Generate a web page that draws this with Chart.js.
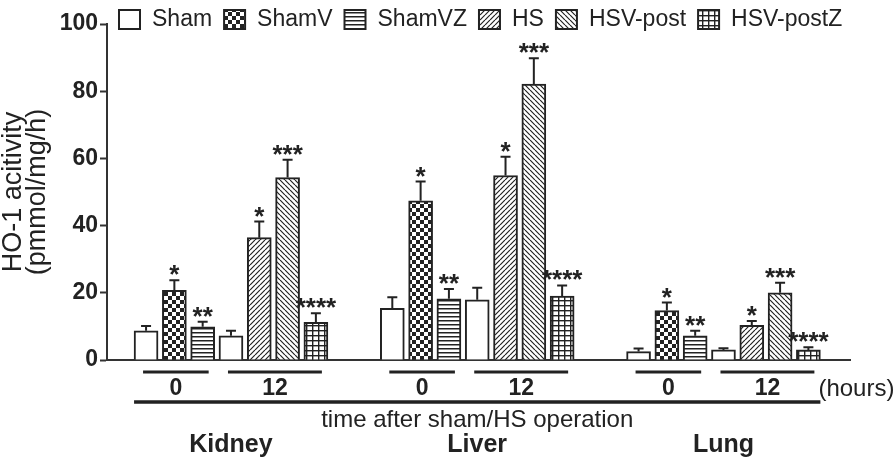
<!DOCTYPE html>
<html>
<head>
<meta charset="utf-8">
<script src="https://cdn.jsdelivr.net/npm/chart.js@4.4.1/dist/chart.umd.min.js"></script>
<style>
  html, body { margin: 0; padding: 0; background: #fff; }
  canvas { display: block; }
</style>
</head>
<body>
<canvas id="chart" width="895" height="463"></canvas>
<script>
// organs and time points
const organs = ['Kidney', 'Liver', 'Lung'];
const hourLabels = ['0', '12'];
const seriesNames = ['Sham', 'ShamV', 'ShamVZ', 'HS', 'HSV-post', 'HSV-postZ'];

// means and SEM per organ (Kidney, Liver, Lung)
const sham0 = [8.7, 15.4, 2.5];
const sham0Err = [1.4, 3.3, 0.9];
const sham12 = [7.2, 17.9, 3.0];
const sham12Err = [1.5, 3.6, 0.5];
const shamV = [20.7, 47.4, 14.7];
const shamVErr = [3.0, 5.7, 2.4];
const shamVZ = [9.9, 18.2, 7.2];
const shamVZErr = [1.5, 2.9, 1.5];
const hs = [36.4, 54.9, 10.3];
const hsErr = [4.8, 5.6, 1.3];
const hsvPost = [54.3, 82.1, 20.0];
const hsvPostErr = [5.3, 7.7, 3.0];
const hsvPostZ = [11.2, 19.0, 3.0];
const hsvPostZErr = [2.7, 3.2, 0.8];
const starMarks = ['', '*', '**', '*', '***', '****'];

const FONT = "'Liberation Sans', Arial, Helvetica, sans-serif";
const INK = '#222';
const organStride = 8.7; // slots between first bars of two organs

function makePattern(kind) {
  const c = document.createElement('canvas');
  const sizes = { white: [4, 4], check: [8, 8], hlines: [4, 4], up: [5, 5], down: [5, 5], grid: [6, 5] };
  const [w, h] = sizes[kind];
  c.width = w; c.height = h;
  const g = c.getContext('2d');
  g.fillStyle = '#fff';
  g.fillRect(0, 0, w, h);
  g.fillStyle = INK;
  g.strokeStyle = INK;
  if (kind === 'check') {
    g.fillRect(0, 0, 4, 4);
    g.fillRect(4, 4, 4, 4);
  } else if (kind === 'hlines') {
    g.fillRect(0, 0, w, 1.5);
  } else if (kind === 'up' || kind === 'down') {
    g.lineWidth = 1.2;
    g.beginPath();
    for (let k = -1; k <= 1; k++) {
      if (kind === 'up') { g.moveTo(k * w, h); g.lineTo(k * w + w, 0); }
      else { g.moveTo(k * w, 0); g.lineTo(k * w + w, h); }
    }
    g.stroke();
  } else if (kind === 'grid') {
    g.fillRect(0, 0, 1.4, h);
    g.fillRect(0, 0, w, 1.4);
  }
  if (kind === 'white') return '#fff';
  return g.createPattern(c, 'repeat');
}

const fills = ['white', 'check', 'hlines', 'up', 'down', 'grid'].map(makePattern);

function pos(o, slot) { return o * organStride + slot; }

function pts(slot, means, errs) {
  return organs.map((_, o) => ({ x: pos(o, slot), y: means[o], err: errs[o] }));
}

const seriesPoints = [
  pts(0, sham0, sham0Err).concat(pts(3, sham12, sham12Err)),
  pts(1, shamV, shamVErr),
  pts(2, shamVZ, shamVZErr),
  pts(4, hs, hsErr),
  pts(5, hsvPost, hsvPostErr),
  pts(6, hsvPostZ, hsvPostZErr),
];

const datasets = seriesNames.map((name, i) => ({
  label: name,
  data: seriesPoints[i],
  backgroundColor: fills[i],
  borderColor: INK,
  borderWidth: 2,
  barThickness: 24,
  grouped: false,
  stars: starMarks[i],
}));

// error bars, stars, legend and the bracket labels under the axis
const decorations = {
  id: 'decorations',
  afterDatasetsDraw(chart) {
    const { ctx, scales: { x, y } } = chart;
    ctx.save();
    ctx.strokeStyle = INK;
    ctx.fillStyle = INK;

    // error bars + stars
    chart.data.datasets.forEach(ds => {
      ds.data.forEach(p => {
        const px = x.getPixelForValue(p.x);
        const top = y.getPixelForValue(p.y);
        const et = y.getPixelForValue(p.y + p.err);
        ctx.lineWidth = 2;
        ctx.beginPath();
        ctx.moveTo(px, top);
        ctx.lineTo(px, et);
        ctx.moveTo(px - 5, et);
        ctx.lineTo(px + 5, et);
        ctx.stroke();
        if (ds.stars) {
          ctx.font = 'bold 26px ' + FONT;
          ctx.textAlign = 'center';
          ctx.textBaseline = 'alphabetic';
          ctx.fillText(ds.stars, px, et + 3);
        }
      });
    });

    // time brackets
    ctx.textAlign = 'center';
    ctx.textBaseline = 'middle';
    let lastEnd = 0;
    organs.forEach((org, o) => {
      hourLabels.forEach((h, t) => {
        const x0 = x.getPixelForValue(pos(o, t === 0 ? 0 : 3)) - 3;
        const x1 = x.getPixelForValue(pos(o, t === 0 ? 2 : 6)) + 6;
        ctx.lineWidth = 3;
        ctx.beginPath();
        ctx.moveTo(x0, 372);
        ctx.lineTo(x1, 372);
        ctx.stroke();
        ctx.font = 'bold 23px ' + FONT;
        ctx.fillText(h, (x0 + x1) / 2, 389);
        lastEnd = x1;
      });
      ctx.font = 'bold 25px ' + FONT;
      const gc = (x.getPixelForValue(pos(o, 0)) + x.getPixelForValue(pos(o, 6))) / 2;
      ctx.fillText(org, gc, 445);
    });
    ctx.textAlign = 'left';
    ctx.font = '24px ' + FONT;
    ctx.fillText('(hours)', lastEnd + 4, 389);

    const l0 = x.getPixelForValue(pos(0, 0)) - 12;
    const l1 = x.getPixelForValue(pos(2, 6)) + 12;
    ctx.lineWidth = 3.5;
    ctx.beginPath();
    ctx.moveTo(l0, 402);
    ctx.lineTo(l1, 402);
    ctx.stroke();
    ctx.textAlign = 'center';
    ctx.font = '24px ' + FONT;
    ctx.fillText('time after sham/HS operation', (l0 + l1) / 2, 420);

    // legend
    let lx = 119;
    ctx.font = '23px ' + FONT;
    ctx.textAlign = 'left';
    chart.data.datasets.forEach(ds => {
      ctx.fillStyle = ds.backgroundColor;
      ctx.fillRect(lx, 10, 21, 19);
      ctx.lineWidth = 2;
      ctx.strokeRect(lx, 10, 21, 19);
      ctx.fillStyle = INK;
      ctx.fillText(ds.label, lx + 33, 20);
      lx += 33 + ctx.measureText(ds.label).width + 12;
    });
    ctx.restore();
  }
};

new Chart(document.getElementById('chart'), {
  type: 'bar',
  data: { datasets },
  options: {
    responsive: false,
    animation: false,
    devicePixelRatio: 1,
    layout: { padding: { left: 0, right: 45, top: 24, bottom: 103 } },
    plugins: { legend: { display: false }, tooltip: { enabled: false } },
    scales: {
      x: {
        type: 'linear',
        min: -1.38,
        max: 24.87,
        offset: false,
        ticks: { display: false },
        grid: { display: false, drawTicks: false },
        border: { display: true, color: '#333', width: 2 },
        afterFit: s => { s.height = 0; },
      },
      y: {
        min: 0,
        max: 100,
        ticks: { stepSize: 20, color: INK, padding: 2, font: { family: FONT, size: 23, weight: 'bold' } },
        grid: { drawOnChartArea: false, tickLength: 7, tickColor: '#333', tickWidth: 2 },
        border: { color: '#333', width: 2 },
        title: {
          display: true,
          text: ['HO-1 acitivity', '(pmmol/mg/h)'],
          color: INK,
          padding: { top: 2, bottom: 0 },
          font: { family: FONT, size: 27, lineHeight: 0.89 },
        },
        afterFit: s => { s.width = 107; },
      },
    },
  },
  plugins: [decorations],
});
</script>
</body>
</html>
